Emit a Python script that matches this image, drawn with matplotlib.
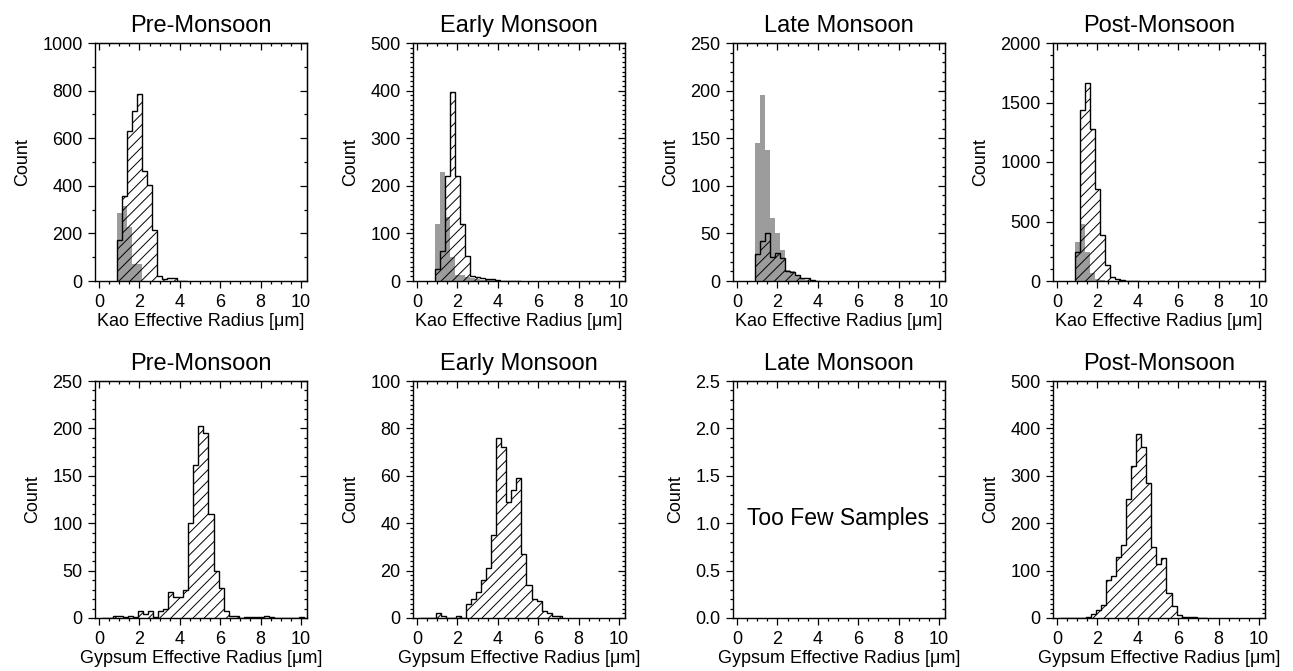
import numpy as np
import matplotlib
matplotlib.use("Agg")
import matplotlib.pyplot as plt
from matplotlib.ticker import MultipleLocator, AutoMinorLocator, FormatStrFormatter

plt.rcParams['font.family'] = ['Liberation Sans', 'DejaVu Sans']
plt.rcParams['hatch.linewidth'] = 0.7

seasons = ['Pre-Monsoon', 'Early Monsoon', 'Late Monsoon', 'Post-Monsoon']
bin_width = 0.25

# Kaolinite effective radius histograms (bins of 0.25 um starting at 0.875 um)
kao_start = 0.875
kao_hatched = [
    [174, 356, 629, 713, 786, 461, 405, 213, 20, 8, 11, 11, 2, 1],
    [25, 64, 221, 397, 221, 120, 52, 10, 8, 6, 5, 3.5, 2, 1, 1, 1, 0.5],
    [28, 42, 50, 25, 29, 24, 11, 9, 6, 3, 3, 1, 0.5],
    [244, 1440, 1665, 1280, 770, 385, 135, 35, 15, 5, 3, 2, 1],
]
kao_gray = [
    [286, 314, 225, 71, 71],
    [120, 230, 134, 50, 13, 12, 8, 6, 4, 3, 2, 2, 1, 1, 1, 1],
    [145, 195, 138, 66, 50, 33, 12, 11, 5, 2, 1],
    [328, 482, 241, 67, 20, 5],
]

# Gypsum effective radius histograms (bins of 0.25 um starting at 0.17 um)
gyp_start = 0.17
gyp_hatched = [
    [0, 0, 2, 2, 1, 2, 1, 7, 4, 7, 1, 7, 9, 27, 22, 22, 30, 100, 161, 203, 195,
     110, 50, 32, 7, 2, 2, 0.5, 1, 1, 1, 1, 2, 1, 0.5, 0, 0, 0, 0, 1],
    [0, 0, 0, 2, 1, 0, 0, 1, 0, 6, 8, 11, 16, 21, 35, 76, 72, 49, 54, 59, 27,
     14, 8, 7, 3, 2, 1, 1],
    None,
    [0, 0, 0, 0, 0, 3, 9, 17, 27, 80, 89, 128, 154, 252, 321, 388, 361, 285,
     149, 113, 127, 52, 26, 7, 3, 2, 2, 1, 1],
]

kao_ymax = [1000, 500, 250, 2000]
kao_ystep = [200, 100, 50, 500]
kao_yminor = [2, 10, 5, 5]
gyp_ymax = [250, 100, 2.5, 500]
gyp_ystep = [50, 20, 0.5, 100]
gyp_yminor = [5, 10, 5, 10]

W, H = 1293, 671
fig = plt.figure(figsize=(W / 100, H / 100), dpi=100)

lefts = [95, 413, 733, 1053]
axw = 212
rows = [(43, 281), (381, 618)]


def style_axes(ax, ymax, ystep, yminor, xlabel):
    ax.set_xlim(-0.2, 10.3)
    ax.set_ylim(0, ymax)
    ax.xaxis.set_major_locator(MultipleLocator(2))
    ax.xaxis.set_minor_locator(MultipleLocator(0.5))
    ax.yaxis.set_major_locator(MultipleLocator(ystep))
    ax.yaxis.set_minor_locator(AutoMinorLocator(yminor))
    if ystep < 1:
        ax.yaxis.set_major_formatter(FormatStrFormatter('%.1f'))
    ax.tick_params(which='both', direction='out', top=False, right=False,
                   labelsize=13, width=0.9, pad=4)
    ax.tick_params(which='major', length=5)
    ax.tick_params(which='minor', length=2.5)
    # ticks on top/right pointing inward
    sx = ax.secondary_xaxis('top')
    sx.xaxis.set_major_locator(MultipleLocator(2))
    sx.xaxis.set_minor_locator(MultipleLocator(0.5))
    sx.tick_params(which='both', direction='in', labeltop=False, width=0.9)
    sx.tick_params(which='major', length=5)
    sx.tick_params(which='minor', length=2.5)
    sy = ax.secondary_yaxis('right')
    sy.yaxis.set_major_locator(MultipleLocator(ystep))
    sy.yaxis.set_minor_locator(AutoMinorLocator(yminor))
    sy.tick_params(which='both', direction='in', labelright=False, width=0.9)
    sy.tick_params(which='major', length=5)
    sy.tick_params(which='minor', length=2.5)
    for s in ax.spines.values():
        s.set_linewidth(1.0)
    ax.set_xlabel(xlabel, fontsize=13, labelpad=2)
    ax.set_ylabel('Count', fontsize=13, labelpad=8)


for i, season in enumerate(seasons):
    # top row: kaolinite
    top, bot = rows[0]
    ax = fig.add_axes([lefts[i] / W, 1 - bot / H, axw / W, (bot - top) / H])
    g = kao_gray[i]
    g_edges = kao_start + bin_width * np.arange(len(g) + 1)
    ax.stairs(g, g_edges, fill=True, color='#9c9c9c', lw=0)
    h = kao_hatched[i]
    h_edges = kao_start + bin_width * np.arange(len(h) + 1)
    ax.stairs(h, h_edges, fill=True, facecolor='none', edgecolor='black',
              hatch='///', lw=1.0)
    style_axes(ax, kao_ymax[i], kao_ystep[i], kao_yminor[i],
               'Kao Effective Radius [μm]')
    ax.set_title(season, fontsize=17, pad=8)

    # bottom row: gypsum
    top, bot = rows[1]
    ax = fig.add_axes([lefts[i] / W, 1 - bot / H, axw / W, (bot - top) / H])
    h = gyp_hatched[i]
    if h is None:
        ax.text(5.0, 1.05, 'Too Few Samples', fontsize=16.5,
                ha='center', va='center')
    else:
        h_edges = gyp_start + bin_width * np.arange(len(h) + 1)
        ax.stairs(h, h_edges, fill=True, facecolor='none', edgecolor='black',
                  hatch='///', lw=1.0)
    style_axes(ax, gyp_ymax[i], gyp_ystep[i], gyp_yminor[i],
               'Gypsum Effective Radius [μm]')
    ax.set_title(season, fontsize=17, pad=8)

fig.savefig('out.png', dpi=100)
